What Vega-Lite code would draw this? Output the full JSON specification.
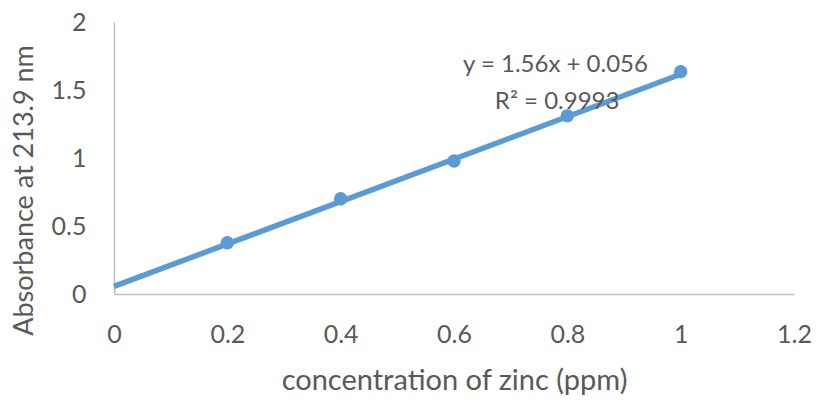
{
  "$schema": "https://vega.github.io/schema/vega-lite/v6.json",
  "width": 680,
  "height": 272,
  "autosize": "none",
  "padding": {"left": 114, "top": 22, "right": 25, "bottom": 112},
  "background": "white",
  "config": {
    "view": {"stroke": null},
    "font": "Lato",
    "axis": {
      "labelFont": "Lato", "titleFont": "Lato",
      "labelColor": "#595959", "titleColor": "#595959",
      "labelFontSize": 25, "titleFontSize": 27,
      "titleFontWeight": "normal",
      "grid": false, "ticks": false, "labelFlush": false,
      "domainColor": "#BFBFBF", "domainWidth": 1.5
    }
  },
  "datasets": {
    "points": [
      {"conc": 0.2, "abs": 0.377},
      {"conc": 0.4, "abs": 0.700},
      {"conc": 0.6, "abs": 0.978},
      {"conc": 0.8, "abs": 1.310},
      {"conc": 1.0, "abs": 1.635}
    ],
    "trend": [
      {"conc": 0.0, "abs": 0.056},
      {"conc": 1.0, "abs": 1.616}
    ]
  },
  "layer": [
    {
      "data": {"name": "trend"},
      "mark": {"type": "line", "color": "#5B9BD5", "strokeWidth": 5.5, "strokeCap": "butt", "clip": false},
      "encoding": {
        "x": {"field": "conc", "type": "quantitative",
          "scale": {"domain": [0, 1.2], "nice": false, "zero": false},
          "axis": {"values": [0, 0.2, 0.4, 0.6, 0.8, 1, 1.2], "format": "~g", "labelPadding": 28,
                   "title": "concentration of zinc (ppm)", "titleFontSize": 29, "titleY": 86, "titleBaseline": "middle"}},
        "y": {"field": "abs", "type": "quantitative",
          "scale": {"domain": [0, 2], "nice": false},
          "axis": {"values": [0, 0.5, 1, 1.5, 2], "format": "~g", "labelPadding": 28,
                   "title": "Absorbance at 213.9 nm", "titleFontSize": 27, "titleX": -90, "titleY": 168, "titleBaseline": "middle"}}
      }
    },
    {
      "data": {"name": "points"},
      "mark": {"type": "circle", "color": "#5B9BD5", "opacity": 1, "size": 180},
      "encoding": {
        "x": {"field": "conc", "type": "quantitative"},
        "y": {"field": "abs", "type": "quantitative"}
      }
    },
    {
      "data": {"values": [{}]},
      "mark": {"type": "text", "text": "y = 1.56x  + 0.056", "font": "Lato", "fontSize": 24, "color": "#595959", "align": "center", "baseline": "middle"},
      "encoding": {
        "x": {"datum": 0.779, "type": "quantitative"},
        "y": {"datum": 1.684, "type": "quantitative"}
      }
    },
    {
      "data": {"values": [{}]},
      "mark": {"type": "text", "text": "R² = 0.9993", "font": "Lato", "fontSize": 24, "color": "#595959", "align": "center", "baseline": "middle"},
      "encoding": {
        "x": {"datum": 0.782, "type": "quantitative"},
        "y": {"datum": 1.412, "type": "quantitative"}
      }
    }
  ]
}
